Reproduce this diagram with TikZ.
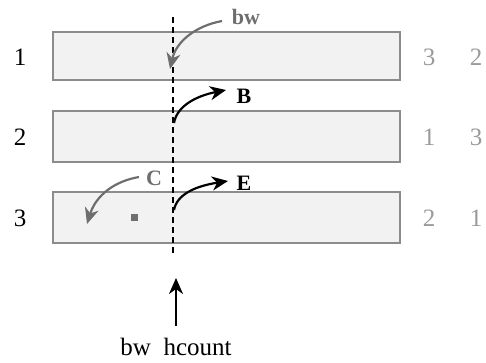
\documentclass[tikz,border=0pt]{standalone}
\usepackage{fontspec}
\setmainfont{Liberation Serif}
\usetikzlibrary{arrows.meta}
\definecolor{barfill}{HTML}{F2F2F2}
\definecolor{bargray}{HTML}{8C8C8C}
\definecolor{arrgray}{HTML}{6E6E6E}
\definecolor{numgray}{HTML}{9A9A9A}
\begin{document}
\begin{tikzpicture}[x=1pt,y=-1pt,
  bar/.style={draw=bargray,fill=barfill,line width=1.2pt},
  rowlbl/.style={font=\fontsize{25}{25}\selectfont,inner sep=0pt},
  sidelbl/.style={font=\fontsize{25}{25}\selectfont,text=numgray,inner sep=0pt},
  tag/.style={font=\bfseries\fontsize{22}{22}\selectfont,inner sep=0pt},
  blkarr/.style={-{Stealth[length=16pt,width=14pt,inset=5pt]},line width=2.2pt},
  grayarr/.style={blkarr,draw=arrgray}]
\useasboundingbox (0,0) rectangle (486,362);
% three bars
\draw[bar] (53,32) rectangle (400,80);
\draw[bar] (53,111) rectangle (400,162);
\draw[bar] (53,192) rectangle (400,243);
% row numbers
\node[rowlbl] (r1) at (20,57) {1};
\node[rowlbl] (r2) at (20,137) {2};
\node[rowlbl] (r3) at (20,218) {3};
\node[sidelbl] (a1) at (429,57) {3};
\node[sidelbl] (b1) at (476,57) {2};
\node[sidelbl] (a2) at (429,137) {1};
\node[sidelbl] (b2) at (476,137) {3};
\node[sidelbl] (a3) at (429,218) {2};
\node[sidelbl] (b3) at (476,218) {1};
% dashed cut
\coordinate (ctop) at (173,17);
\coordinate (cbot) at (173,253);
\draw[line width=2.2pt,dash pattern=on 6pt off 4pt] (ctop) -- (cbot);
% bw
\node[tag,text=arrgray] (bw) at (246,17) {bw};
\coordinate (bwend) at (170,69);
\draw[grayarr] (222,21) .. controls (195,26) and (176,42) .. (bwend);
% B
\node[tag] (B) at (244,96) {B};
\coordinate (Bst) at (174,123);
\draw[blkarr] (Bst) .. controls (177,106) and (196,96) .. (226,90);
% C
\node[tag,text=arrgray] (C) at (154,178) {C};
\coordinate (Cend) at (87,224);
\draw[grayarr] (139,177) .. controls (115,181) and (96,195) .. (Cend);
% E
\node[tag] (E) at (244,183) {E};
\coordinate (Est) at (174,210);
\draw[blkarr] (Est) .. controls (177,194) and (196,186) .. (228,181);
% marker square
\node[fill=arrgray,minimum size=7pt,inner sep=0pt] (sq) at (134,217) {};
% bottom label and arrow
\node[font=\fontsize{25}{25}\selectfont,inner sep=0pt] (bh) at (176,347) {bw\ \ hcount};
\coordinate (upend) at (176,278);
\draw[blkarr] (176,326) -- (upend);
\end{tikzpicture}
\end{document}
